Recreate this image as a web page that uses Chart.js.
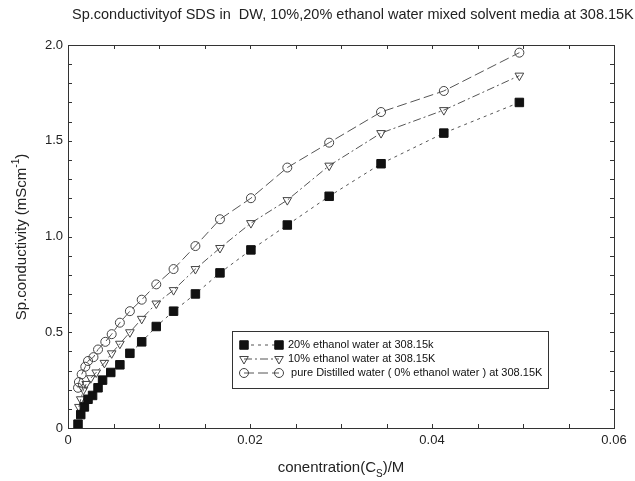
<!DOCTYPE html>
<html>
<head>
<meta charset="utf-8">
<script src="https://cdn.jsdelivr.net/npm/chart.js@4"></script>
<style>
    body { margin: 0; background: #fff; }
    #wrap { width: 635px; height: 481px; position: relative; }
</style>
</head>
<body>
<div id="wrap"><canvas id="cond"></canvas></div>
<script>
// ── Data ──

const TITLE = "Sp.conductivityof SDS in  DW, 10%,20% ethanol water mixed solvent media at 308.15K";

const ETH20_X = [0.0011, 0.0014, 0.0018, 0.0022, 0.0027, 0.0033, 0.0038, 0.0047, 0.0057, 0.0068, 0.0081,
    0.0097, 0.0116, 0.0140, 0.0167, 0.0201, 0.0241, 0.0287, 0.0344, 0.0413, 0.0496];
const ETH20_Y = [0.02, 0.07, 0.11, 0.15, 0.17, 0.21, 0.25, 0.29, 0.33, 0.39, 0.45,
    0.53, 0.61, 0.70, 0.81, 0.93, 1.06, 1.21, 1.38, 1.54, 1.70];

const ETH10_X = [0.0012, 0.0014, 0.0017, 0.0020, 0.0025, 0.0031, 0.0040, 0.0048, 0.0057, 0.0068, 0.0081,
    0.0097, 0.0116, 0.0140, 0.0167, 0.0201, 0.0241, 0.0287, 0.0344, 0.0413, 0.0496];
const ETH10_Y = [0.11, 0.15, 0.20, 0.23, 0.26, 0.29, 0.34, 0.39, 0.44, 0.50, 0.57,
    0.65, 0.72, 0.83, 0.94, 1.07, 1.19, 1.37, 1.54, 1.66, 1.84];

const DW_X = [0.0011, 0.0012, 0.0015, 0.0019, 0.0022, 0.0028, 0.0033, 0.0041, 0.0048, 0.0057, 0.0068,
    0.0081, 0.0097, 0.0116, 0.0140, 0.0167, 0.0201, 0.0241, 0.0287, 0.0344, 0.0413, 0.0496];
const DW_Y = [0.21, 0.24, 0.28, 0.32, 0.35, 0.37, 0.41, 0.45, 0.49, 0.55, 0.61,
    0.67, 0.75, 0.83, 0.95, 1.09, 1.20, 1.36, 1.49, 1.65, 1.76, 1.96];

const LABELS = [
    "20% ethanol water at 308.15k",
    "10% ethanol water at 308.15K",
    " pure Distilled water ( 0% ethanol water ) at 308.15K",
];

const X_LABEL_TICKS = [0, 0.02, 0.04, 0.06];
const Y_LABEL_TICKS = [0, 0.5, 1.0, 1.5, 2.0];

const pts = (xs, ys) => xs.map((x, i) => ({ x, y: ys[i] }));

const FONT = "'Liberation Sans', Arial, sans-serif";
const INK = "#222";

// ── Frame, inward ticks, titles, legend ──

const decorations = {
    id: "decorations",
    afterDraw(chart) {
        const { ctx, chartArea: a, scales } = chart;
        const xs = scales.x, ys = scales.y;
        ctx.save();

        // frame
        ctx.strokeStyle = "#333";
        ctx.lineWidth = 1;
        ctx.strokeRect(Math.round(a.left) + 0.5, Math.round(a.top) + 0.5,
            Math.round(a.right - a.left), Math.round(a.bottom - a.top));

        // inward ticks, every 0.005 on x and 0.1 on y
        ctx.beginPath();
        for (let i = 1; i < 12; i++) {
            const px = Math.round(xs.getPixelForValue(i * 0.005)) + 0.5;
            ctx.moveTo(px, a.bottom); ctx.lineTo(px, a.bottom - 4);
            ctx.moveTo(px, a.top); ctx.lineTo(px, a.top + 4);
        }
        for (let i = 1; i < 20; i++) {
            const py = Math.round(ys.getPixelForValue(i * 0.1)) + 0.5;
            ctx.moveTo(a.left, py); ctx.lineTo(a.left + 4, py);
            ctx.moveTo(a.right, py); ctx.lineTo(a.right - 4, py);
        }
        ctx.stroke();

        ctx.fillStyle = INK;
        ctx.textBaseline = "middle";

        // chart title
        ctx.font = `14.5px ${FONT}`;
        ctx.textAlign = "left";
        ctx.fillText(TITLE, 72, 15);

        // x title with subscript
        const cx = (a.left + a.right) / 2;
        const p1 = "conentration(C", p2 = ")/M";
        ctx.font = `10px ${FONT}`;
        const wS = ctx.measureText("S").width;
        ctx.font = `15px ${FONT}`;
        const w1 = ctx.measureText(p1).width, w2 = ctx.measureText(p2).width;
        const tx = cx - (w1 + wS + w2) / 2;
        const ty = 468;
        ctx.fillText(p1, tx, ty);
        ctx.font = `10px ${FONT}`;
        ctx.fillText("S", tx + w1, ty + 6);
        ctx.font = `15px ${FONT}`;
        ctx.fillText(p2, tx + w1 + wS, ty);

        // y title with superscript
        ctx.save();
        ctx.translate(22, 237);
        ctx.rotate(-Math.PI / 2);
        const q1 = "Sp.conductivity (mScm", q2 = ")";
        ctx.font = `10px ${FONT}`;
        const wSup = ctx.measureText("-1").width;
        ctx.font = `15px ${FONT}`;
        const v1 = ctx.measureText(q1).width, v2 = ctx.measureText(q2).width;
        const sx = -(v1 + wSup + v2) / 2;
        ctx.fillText(q1, sx, 0);
        ctx.font = `10px ${FONT}`;
        ctx.fillText("-1", sx + v1, -6);
        ctx.font = `15px ${FONT}`;
        ctx.fillText(q2, sx + v1 + wSup, 0);
        ctx.restore();

        // legend box
        const bx = 232, by = 331, bw = 316, bh = 57;
        ctx.fillStyle = "#fff";
        ctx.fillRect(bx, by, bw, bh);
        ctx.strokeStyle = "#333";
        ctx.strokeRect(bx + 0.5, by + 0.5, bw, bh);
        ctx.font = `11px ${FONT}`;
        chart.data.datasets.forEach((ds, i) => {
            const ry = by + 14 + i * 14;
            const x0 = 244, x1 = 279;
            ctx.strokeStyle = ds.borderColor;
            ctx.lineWidth = 1;
            ctx.setLineDash(ds.borderDash);
            ctx.beginPath();
            ctx.moveTo(x0, ry); ctx.lineTo(x1, ry);
            ctx.stroke();
            ctx.setLineDash([]);
            [x0, x1].forEach((mx) => {
                ctx.fillStyle = ds.pointBackgroundColor;
                ctx.strokeStyle = ds.pointBorderColor;
                Chart.helpers.drawPoint(ctx, {
                    pointStyle: ds.pointStyle,
                    radius: ds.pointRadius,
                    rotation: ds.pointRotation || 0,
                    borderWidth: 1,
                }, mx, ry);
            });
            ctx.fillStyle = "#111";
            ctx.fillText(ds.label, 288, ry);
        });

        ctx.restore();
    },
};

new Chart(document.getElementById("cond"), {
    type: "scatter",
    data: {
        datasets: [
            {
                label: LABELS[0],
                data: pts(ETH20_X, ETH20_Y),
                showLine: true,
                borderColor: "#555",
                borderWidth: 1,
                borderDash: [3, 4],
                pointStyle: "rect",
                pointRadius: 6,
                pointBackgroundColor: "#111",
                pointBorderColor: "#111",
                pointBorderWidth: 1,
            },
            {
                label: LABELS[1],
                data: pts(ETH10_X, ETH10_Y),
                showLine: true,
                borderColor: "#555",
                borderWidth: 1,
                borderDash: [8, 3, 2, 3],
                pointStyle: "triangle",
                pointRotation: 180,
                pointRadius: 5,
                pointBackgroundColor: "rgba(255,255,255,0)",
                pointBorderColor: "#444",
                pointBorderWidth: 1,
            },
            {
                label: LABELS[2],
                data: pts(DW_X, DW_Y),
                showLine: true,
                borderColor: "#555",
                borderWidth: 1,
                borderDash: [10, 4],
                pointStyle: "circle",
                pointRadius: 4.5,
                pointBackgroundColor: "rgba(255,255,255,0)",
                pointBorderColor: "#444",
                pointBorderWidth: 1,
            },
        ],
    },
    options: {
        responsive: true,
        maintainAspectRatio: false,
        animation: false,
        layout: { padding: { top: 45, right: 21, left: 0, bottom: 0 } },
        plugins: {
            legend: { display: false },
            tooltip: { enabled: false },
        },
        scales: {
            x: {
                type: "linear",
                min: 0,
                max: 0.06,
                grid: { display: false, drawTicks: false },
                border: { display: false },
                afterBuildTicks: (axis) => { axis.ticks = X_LABEL_TICKS.map((v) => ({ value: v })); },
                ticks: {
                    color: INK,
                    font: { family: FONT, size: 13 },
                    padding: 5,
                    maxRotation: 0,
                    callback: (v) => (v === 0 ? "0" : String(Number(v.toFixed(2)))),
                },
                afterFit: (axis) => { axis.height = 53; },
            },
            y: {
                type: "linear",
                min: 0,
                max: 2.0,
                grid: { display: false, drawTicks: false },
                border: { display: false },
                afterBuildTicks: (axis) => { axis.ticks = Y_LABEL_TICKS.map((v) => ({ value: v })); },
                ticks: {
                    color: INK,
                    font: { family: FONT, size: 13 },
                    padding: 5,
                    callback: (v) => (v === 0 ? "0" : v.toFixed(1)),
                },
                afterFit: (axis) => { axis.width = 68; },
            },
        },
    },
    plugins: [decorations],
});
</script>
</body>
</html>
